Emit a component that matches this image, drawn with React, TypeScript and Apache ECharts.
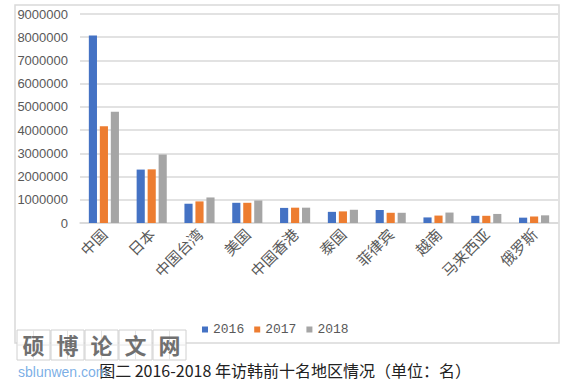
import React, { useEffect, useRef } from "react";
import * as echarts from "echarts";

const categories = ["中国", "日本", "中国台湾", "美国", "中国香港", "泰国", "菲律宾", "越南", "马来西亚", "俄罗斯"];
const years = ["2016", "2017", "2018"];
const values2016 = [8070000, 2300000, 830000, 870000, 650000, 480000, 560000, 240000, 310000, 230000];
const values2017 = [4170000, 2310000, 930000, 870000, 660000, 500000, 440000, 320000, 310000, 280000];
const values2018 = [4790000, 2950000, 1100000, 970000, 660000, 570000, 440000, 450000, 390000, 330000];
const colors = ["#4472C4", "#ED7D31", "#A5A5A5"];
const caption = "图二 2016-2018 年访韩前十名地区情况（单位：名）";
const watermarkChars = ["硕", "博", "论", "文", "网"];
const watermarkUrl = "sblunwen.com";

export default function App() {
  const ref = useRef<HTMLDivElement>(null);
  useEffect(() => {
    if (!ref.current) return;
    const chart = echarts.init(ref.current, null, { renderer: "svg" });
    const seriesData = [values2016, values2017, values2018];
    const wmGraphics: any[] = [];
    watermarkChars.forEach((c, i) => {
      const x0 = 17 + i * 34;
      wmGraphics.push({
        type: "rect",
        shape: { x: x0, y: 330, width: 33, height: 30 },
        style: { fill: "rgba(255,255,255,0.9)", stroke: "#d0d0d0", lineWidth: 1 },
        z: 100,
      });
      wmGraphics.push({
        type: "line",
        shape: { x1: x0 + 16.5, y1: 330, x2: x0 + 16.5, y2: 360 },
        style: { stroke: "#e4e4e4", lineWidth: 1 },
        z: 100,
      });
      wmGraphics.push({
        type: "line",
        shape: { x1: x0, y1: 345, x2: x0 + 33, y2: 345 },
        style: { stroke: "#e4e4e4", lineWidth: 1 },
        z: 100,
      });
      wmGraphics.push({
        type: "text",
        x: x0 + 16.5,
        y: 344,
        style: {
          text: c,
          fill: "#707070",
          fontSize: 22,
          fontWeight: "bold",
          fontFamily: "Noto Sans CJK SC",
          align: "center",
          verticalAlign: "middle",
        },
        z: 101,
      });
    });
    chart.setOption({
      animation: false,
      color: colors,
      grid: { left: 80, right: 15, top: 14, bottom: 159, containLabel: false },
      legend: {
        data: years,
        top: 318,
        left: 197,
        itemWidth: 6,
        itemHeight: 6,
        itemGap: 10,
        icon: "rect",
        textStyle: { color: "#595959", fontSize: 13, fontFamily: "Liberation Mono" },
      },
      xAxis: {
        type: "category",
        data: categories,
        axisLine: { lineStyle: { color: "#d9d9d9", width: 1.5 } },
        axisTick: { show: false },
        axisLabel: {
          rotate: 45,
          color: "#595959",
          fontSize: 15,
          fontFamily: "Noto Sans CJK SC",
          margin: 8,
          interval: 0,
        },
      },
      yAxis: {
        type: "value",
        min: 0,
        max: 9000000,
        interval: 1000000,
        axisLine: { show: false },
        axisTick: { show: false },
        splitLine: { lineStyle: { color: "#d9d9d9", width: 1.5 } },
        axisLabel: {
          color: "#595959",
          fontSize: 13,
          fontFamily: "Liberation Sans",
          margin: 12,
          formatter: (v: number) => String(v),
        },
      },
      series: years.map((y, i) => ({
        name: y,
        type: "bar",
        data: seriesData[i],
        barGap: "35%",
        barCategoryGap: "37%",
      })),
      graphic: [
        {
          type: "rect",
          shape: { x: 15, y: 5, width: 544, height: 338 },
          style: { fill: "none", stroke: "#d9d9d9", lineWidth: 1.5 },
          silent: true,
        },
        ...wmGraphics,
        {
          type: "text",
          x: 285,
          y: 370,
          style: {
            text: caption,
            fill: "#222",
            fontSize: 16,
            fontFamily: "Noto Sans CJK SC",
            align: "center",
            verticalAlign: "middle",
          },
          z: 100,
        },
        {
          type: "text",
          x: 18,
          y: 372,
          style: {
            text: watermarkUrl,
            fill: "rgba(100,160,225,0.85)",
            fontSize: 14,
            fontFamily: "Liberation Sans",
            verticalAlign: "middle",
          },
          z: 102,
        },
      ],
    });
    return () => chart.dispose();
  }, []);
  return <div ref={ref} style={{ width: 573, height: 382, position: "absolute", left: 0, top: 0 }} />;
}
